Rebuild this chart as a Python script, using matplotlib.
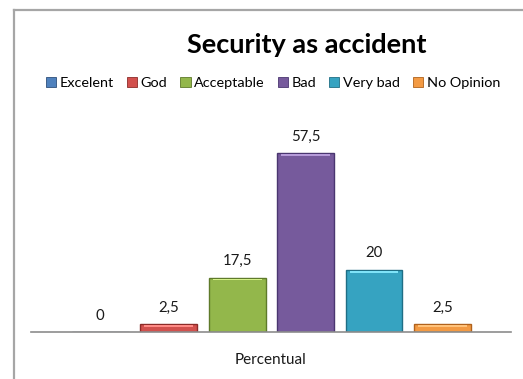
import matplotlib
matplotlib.use("Agg")
import matplotlib.pyplot as plt
from matplotlib.lines import Line2D
from matplotlib.patches import Patch
import numpy as np

plt.rcParams['font.family'] = ['Lato', 'DejaVu Sans']

categories = ["Excelent", "God", "Acceptable", "Bad", "Very bad", "No Opinion"]
values = [0, 2.5, 17.5, 57.5, 20, 2.5]
value_labels = ["0", "2,5", "17,5", "57,5", "20", "2,5"]
x_label = "Percentual"
title = "Security as accident"

colors = ["#4F81BD", "#D2504D", "#93B74B", "#765A9C", "#36A3C1", "#F39A43"]
edges = ["#2E4F7A", "#8C2B28", "#5E7A2A", "#4A3670", "#1F6E85", "#B0621C"]
lights = ["#8DB3E2", "#FF8A85", "#D4F08A", "#B59AD8", "#7FE3F8", "#FFC27A"]

fig = plt.figure(figsize=(5.23, 3.79), dpi=100)
ax = fig.add_axes([31/523, 1-332/379, 480/523, (332-114.3)/379])

x = np.arange(len(categories))
w = 0.83
ax.bar(x, values, width=w, color=colors, edgecolor=edges, linewidth=1.0, zorder=2)
strip = np.minimum(np.array(values), 1.2)
ax.bar(x, strip * 0.45, bottom=np.array(values) - strip * 0.75, width=w * 0.86,
       color=lights, linewidth=0, zorder=3)

for xi, v, lab in zip(x, values, value_labels):
    ax.text(xi, v + 3.0, lab, ha='center', va='bottom', fontsize=10.8, color='#1a1a1a')

ax.set_xlim(-1.01, 6.0)
ax.set_ylim(0, 70)
for s in ['top', 'right', 'left']:
    ax.spines[s].set_visible(False)
ax.spines['bottom'].set_color('#8c8c8c')
ax.spines['bottom'].set_linewidth(1.2)
ax.set_xticks([])
ax.set_yticks([])
ax.patch.set_alpha(0)

fig.text(271/523, 1-360/379, x_label, ha='center', va='center', fontsize=11, color='#1a1a1a')
fig.text(307/523, 1-45/379, title, ha='center', va='center', fontsize=19.5, fontweight='bold', color='black')

handles = [Patch(facecolor=c, edgecolor=e, linewidth=0.6) for c, e in zip(colors, edges)]
leg = fig.legend(handles, categories, loc='center', bbox_to_anchor=(273/523, 1-83/379),
                 ncol=6, frameon=False, fontsize=10.4, handlelength=0.7, handleheight=0.7,
                 handletextpad=0.25, columnspacing=0.9, borderaxespad=0)

fig.add_artist(Line2D([14/523, 522/523], [1-10/379, 1-10/379], color='#a6a6a6', lw=1.6))
fig.add_artist(Line2D([14/523, 14/523], [1-10/379, 0], color='#a6a6a6', lw=1.6))

fig.savefig("out.png", dpi=100)
